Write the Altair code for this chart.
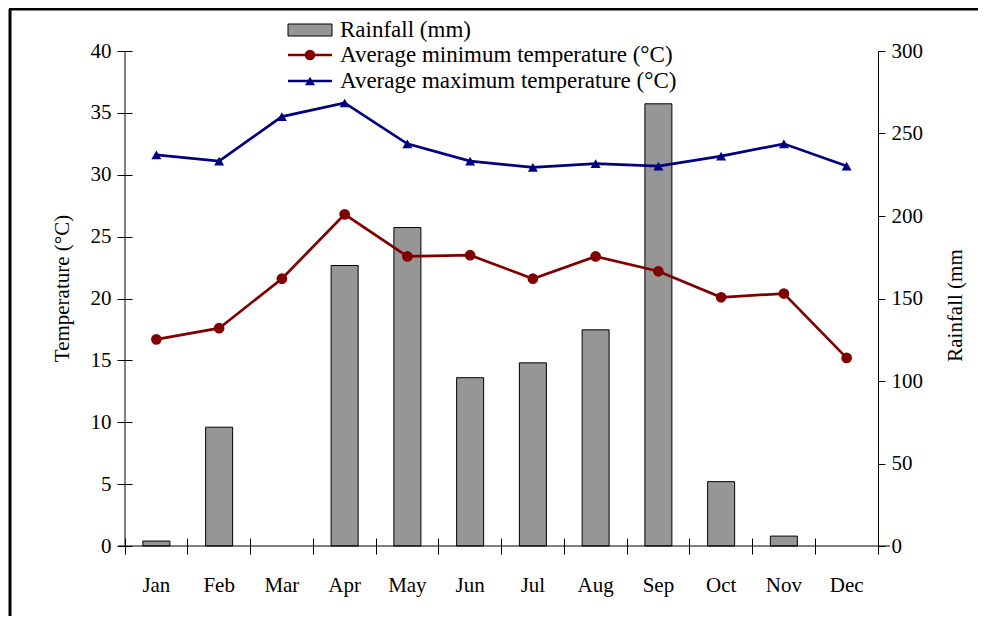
import altair as alt
import pandas as pd

months = ["Jan", "Feb", "Mar", "Apr", "May", "Jun", "Jul", "Aug", "Sep", "Oct", "Nov", "Dec"]
rainfall = [3, 72, 0, 170, 193, 102, 111, 131, 268, 39, 6, 0]
tmin = [16.7, 17.6, 21.6, 26.8, 23.4, 23.5, 21.6, 23.4, 22.2, 20.1, 20.4, 15.2]
tmax = [31.6, 31.1, 34.7, 35.8, 32.5, 31.1, 30.6, 30.9, 30.7, 31.5, 32.5, 30.7]
legend_labels = ["Rainfall (mm)", "Average minimum temperature (°C)", "Average maximum temperature (°C)"]

FONT = "Liberation Serif, Times New Roman, DejaVu Serif, serif"
FS = 21
W, H = 753, 495
MAROON = "#800000"
NAVY = "#000080"

df = pd.DataFrame({"month": months, "rain": rainfall, "tmin": tmin, "tmax": tmax})

xenc = alt.X("month:N", sort=months, title=None,
             scale=alt.Scale(paddingInner=0, paddingOuter=0),
             axis=alt.Axis(labelAngle=0, domain=False, grid=False, bandPosition=1, tickExtra=True,
                           tickSize=16, offset=-8, labelPadding=20, tickColor="black",
                           labelColor="black", labelFont=FONT, labelFontSize=FS))

bars = alt.Chart(df).transform_filter("datum.rain > 0").mark_bar(
    size=27, color="#969696", stroke="black", strokeWidth=1).encode(
    x=xenc,
    y=alt.Y("rain:Q", scale=alt.Scale(domain=[0, 300], nice=False),
            axis=alt.Axis(orient="right", values=[0, 50, 100, 150, 200, 250, 300], title="Rainfall (mm",
                          grid=False, tickSize=7, labelPadding=6, domainColor="black", tickColor="black",
                          labelColor="black", labelFont=FONT, labelFontSize=FS,
                          titleFont=FONT, titleFontSize=FS, titleFontWeight="normal", titleColor="black",
                          titleAngle=270, titlePadding=43, titleY=254)),
)

base_t = alt.Chart(df).encode(x=xenc)
taxis = alt.Axis(orient="left", values=[0, 5, 10, 15, 20, 25, 30, 35, 40], title="Temperature (°C)",
                 grid=False, domain=False, tickSize=15, offset=-7, labelPadding=6, tickColor="black",
                 labelColor="black", labelFont=FONT, labelFontSize=FS,
                 titleFont=FONT, titleFontSize=FS, titleFontWeight="normal", titleColor="black",
                 titlePadding=18, titleY=237)
tscale = alt.Scale(domain=[0, 40], nice=False)

min_line = base_t.mark_line(color=MAROON, strokeWidth=2.7).encode(y=alt.Y("tmin:Q", scale=tscale, axis=taxis))
min_pts = base_t.mark_point(color=MAROON, filled=True, opacity=1, size=115, shape="circle").encode(
    y=alt.Y("tmin:Q", scale=tscale))
max_line = base_t.mark_line(color=NAVY, strokeWidth=2.7).encode(y=alt.Y("tmax:Q", scale=tscale))
max_pts = base_t.mark_point(color=NAVY, filled=True, opacity=1, size=100, shape="triangle-up").encode(
    y=alt.Y("tmax:Q", scale=tscale))

temps = alt.layer(min_line, min_pts, max_line, max_pts)

one = pd.DataFrame({"k": [0]})
# axis lines
left_line = alt.Chart(one).mark_rule(color="black", strokeWidth=1).encode(
    x=alt.value(0), y=alt.value(0), y2=alt.value(H))
bottom_line = alt.Chart(one).mark_rule(color="black", strokeWidth=1).encode(
    x=alt.value(-7), x2=alt.value(W + 12), y=alt.value(H))
# frame
frame_left = alt.Chart(one).mark_rule(color="black", strokeWidth=3).encode(
    x=alt.value(-115), y=alt.value(-42), y2=alt.value(H + 80))
frame_top = alt.Chart(one).mark_rule(color="black", strokeWidth=3).encode(
    x=alt.value(-116), x2=alt.value(W + 110), y=alt.value(-42))

# legend
LX0, LX1, TX = 163, 207, 215
rows_y = [-21, 4, 30]
leg_items = []
leg_items.append(alt.Chart(one).mark_rect(color="#969696", stroke="black", strokeWidth=1).encode(
    x=alt.value(LX0), x2=alt.value(LX1), y=alt.value(rows_y[0] - 6), y2=alt.value(rows_y[0] + 6)))
leg_items.append(alt.Chart(one).mark_rule(color=MAROON, strokeWidth=2.7).encode(
    x=alt.value(LX0), x2=alt.value(LX1), y=alt.value(rows_y[1])))
leg_items.append(alt.Chart(one).mark_point(color=MAROON, filled=True, opacity=1, size=115, shape="circle").encode(
    x=alt.value((LX0 + LX1) / 2), y=alt.value(rows_y[1])))
leg_items.append(alt.Chart(one).mark_rule(color=NAVY, strokeWidth=2.7).encode(
    x=alt.value(LX0), x2=alt.value(LX1), y=alt.value(rows_y[2])))
leg_items.append(alt.Chart(one).mark_point(color=NAVY, filled=True, opacity=1, size=100, shape="triangle-up").encode(
    x=alt.value((LX0 + LX1) / 2), y=alt.value(rows_y[2])))
for lab, yy in zip(legend_labels, rows_y):
    leg_items.append(alt.Chart(pd.DataFrame({"label": [lab]})).mark_text(
        align="left", baseline="middle", font=FONT, fontSize=FS + 2, color="black").encode(
        x=alt.value(TX), y=alt.value(yy), text="label:N"))

chart = alt.layer(bars, temps, left_line, bottom_line, frame_left, frame_top, *leg_items).resolve_scale(
    y="independent").properties(
    width=W, height=H,
    background="white",
    autosize=alt.AutoSizeParams(type="none"),
    padding={"left": 117, "top": 43, "right": 100, "bottom": 70},
).configure_axis(grid=False).configure_view(stroke="transparent", strokeWidth=0)

chart.save("out.html", embed_options={"renderer": "svg", "actions": False})
